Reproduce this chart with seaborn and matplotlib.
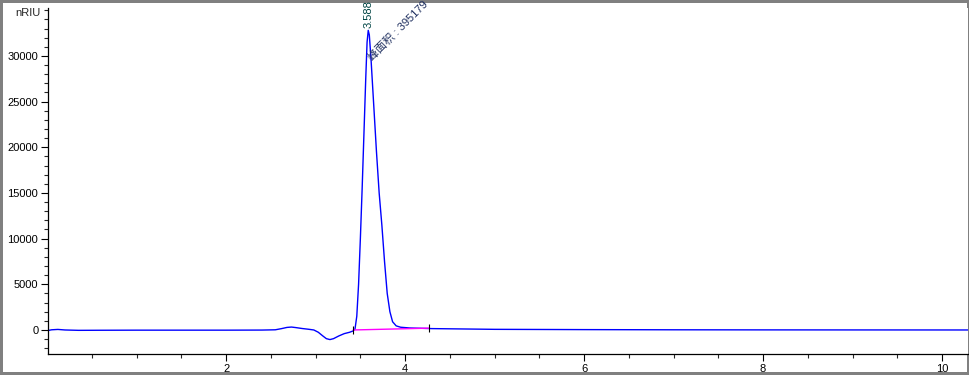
import numpy as np
import pandas as pd
import matplotlib
matplotlib.use("Agg")
import matplotlib.pyplot as plt
import seaborn as sns
from matplotlib.ticker import MultipleLocator

# Chromatogram trace (time in min, signal in nRIU)
time = [0.01, 0.05, 0.12, 0.2, 0.35, 0.6, 1.0, 1.5, 2.0, 2.4, 2.55, 2.62, 2.68, 2.73, 2.78,
        2.85, 2.92, 2.98, 3.03, 3.08, 3.12, 3.16, 3.2, 3.26, 3.32, 3.38, 3.42, 3.44,
        3.46, 3.48, 3.50, 3.52, 3.54, 3.56, 3.575, 3.588, 3.60, 3.62, 3.65, 3.68, 3.71,
        3.74, 3.77, 3.80, 3.83, 3.86, 3.90, 3.95, 4.05, 4.3, 5.0, 6.0, 7.0, 8.0, 9.0, 10.3]
signal = [-60, 20, 60, 0, -40, -30, -20, -20, -20, -10, 20, 150, 280, 320, 260,
          160, 80, 0, -250, -650, -950, -1050, -950, -650, -400, -250, -100, 100,
          1500, 5000, 10000, 15500, 21500, 27500, 31500, 32800, 32300, 29500, 24500, 19500, 15000,
          11500, 7500, 4000, 2000, 900, 450, 300, 220, 150, 70, 40, 20, 10, 5, 0]

# Integration baseline
base_t = [3.42, 4.27]
base_y = [0, 200]

peak_rt = 3.588
peak_h = 32800
area_label = "峰面积 : 395179"

x_ticks = [2, 4, 6, 8, 10]
y_ticks = [0, 5000, 10000, 15000, 20000, 25000, 30000]

sns.set_theme(style="ticks")
plt.rcParams['font.family'] = ['Liberation Sans', 'Noto Sans CJK SC', 'DejaVu Sans']

fig = plt.figure(figsize=(9.7, 3.75), dpi=100)
fig.patch.set_edgecolor("#808080")
fig.patch.set_linewidth(3)
ax = fig.add_axes([0.0495, 0.056, 0.9485, 0.923])

df = pd.DataFrame({"t": time, "s": signal})
sns.lineplot(data=df, x="t", y="s", ax=ax, color="#0000ff", lw=1.0, sort=False)
sns.lineplot(x=base_t, y=base_y, ax=ax, color="#ff00ff", lw=1.0)
ax.vlines(base_t, [b - 400 for b in base_y], [b + 400 for b in base_y], color="black", lw=0.8)

ax.set_xlim(0.01, 10.29)
ax.set_ylim(-2630, 35260)
ax.set_xlabel("")
ax.set_ylabel("")
ax.xaxis.set_minor_locator(MultipleLocator(0.5))
ax.yaxis.set_minor_locator(MultipleLocator(1000))
ax.set_xticks(x_ticks)
ax.set_xticklabels([str(v) for v in x_ticks])
ax.set_yticks(y_ticks)
ax.set_yticklabels([str(v) for v in y_ticks])
ax.tick_params(axis="both", which="major", labelsize=8, length=5, width=0.8, colors="black", pad=2)
ax.tick_params(axis="both", which="minor", length=3, width=0.8)
sns.despine(ax=ax)
for sp in ["left", "bottom"]:
    ax.spines[sp].set_linewidth(0.9)
    ax.spines[sp].set_color("black")

ax.text(-0.008, 0.985, "nRIU", transform=ax.transAxes, ha="right", va="center", fontsize=8)

ax.text(peak_rt, peak_h + 300, f"{peak_rt:.3f}", rotation=90, ha="center", va="bottom",
        fontsize=8, color="#004444")
ax.text(peak_rt + 0.06, peak_h - 3500, area_label, rotation=45, ha="left", va="bottom",
        fontsize=8, color="#203060", rotation_mode="anchor")

fig.savefig("out.png", dpi=100)
